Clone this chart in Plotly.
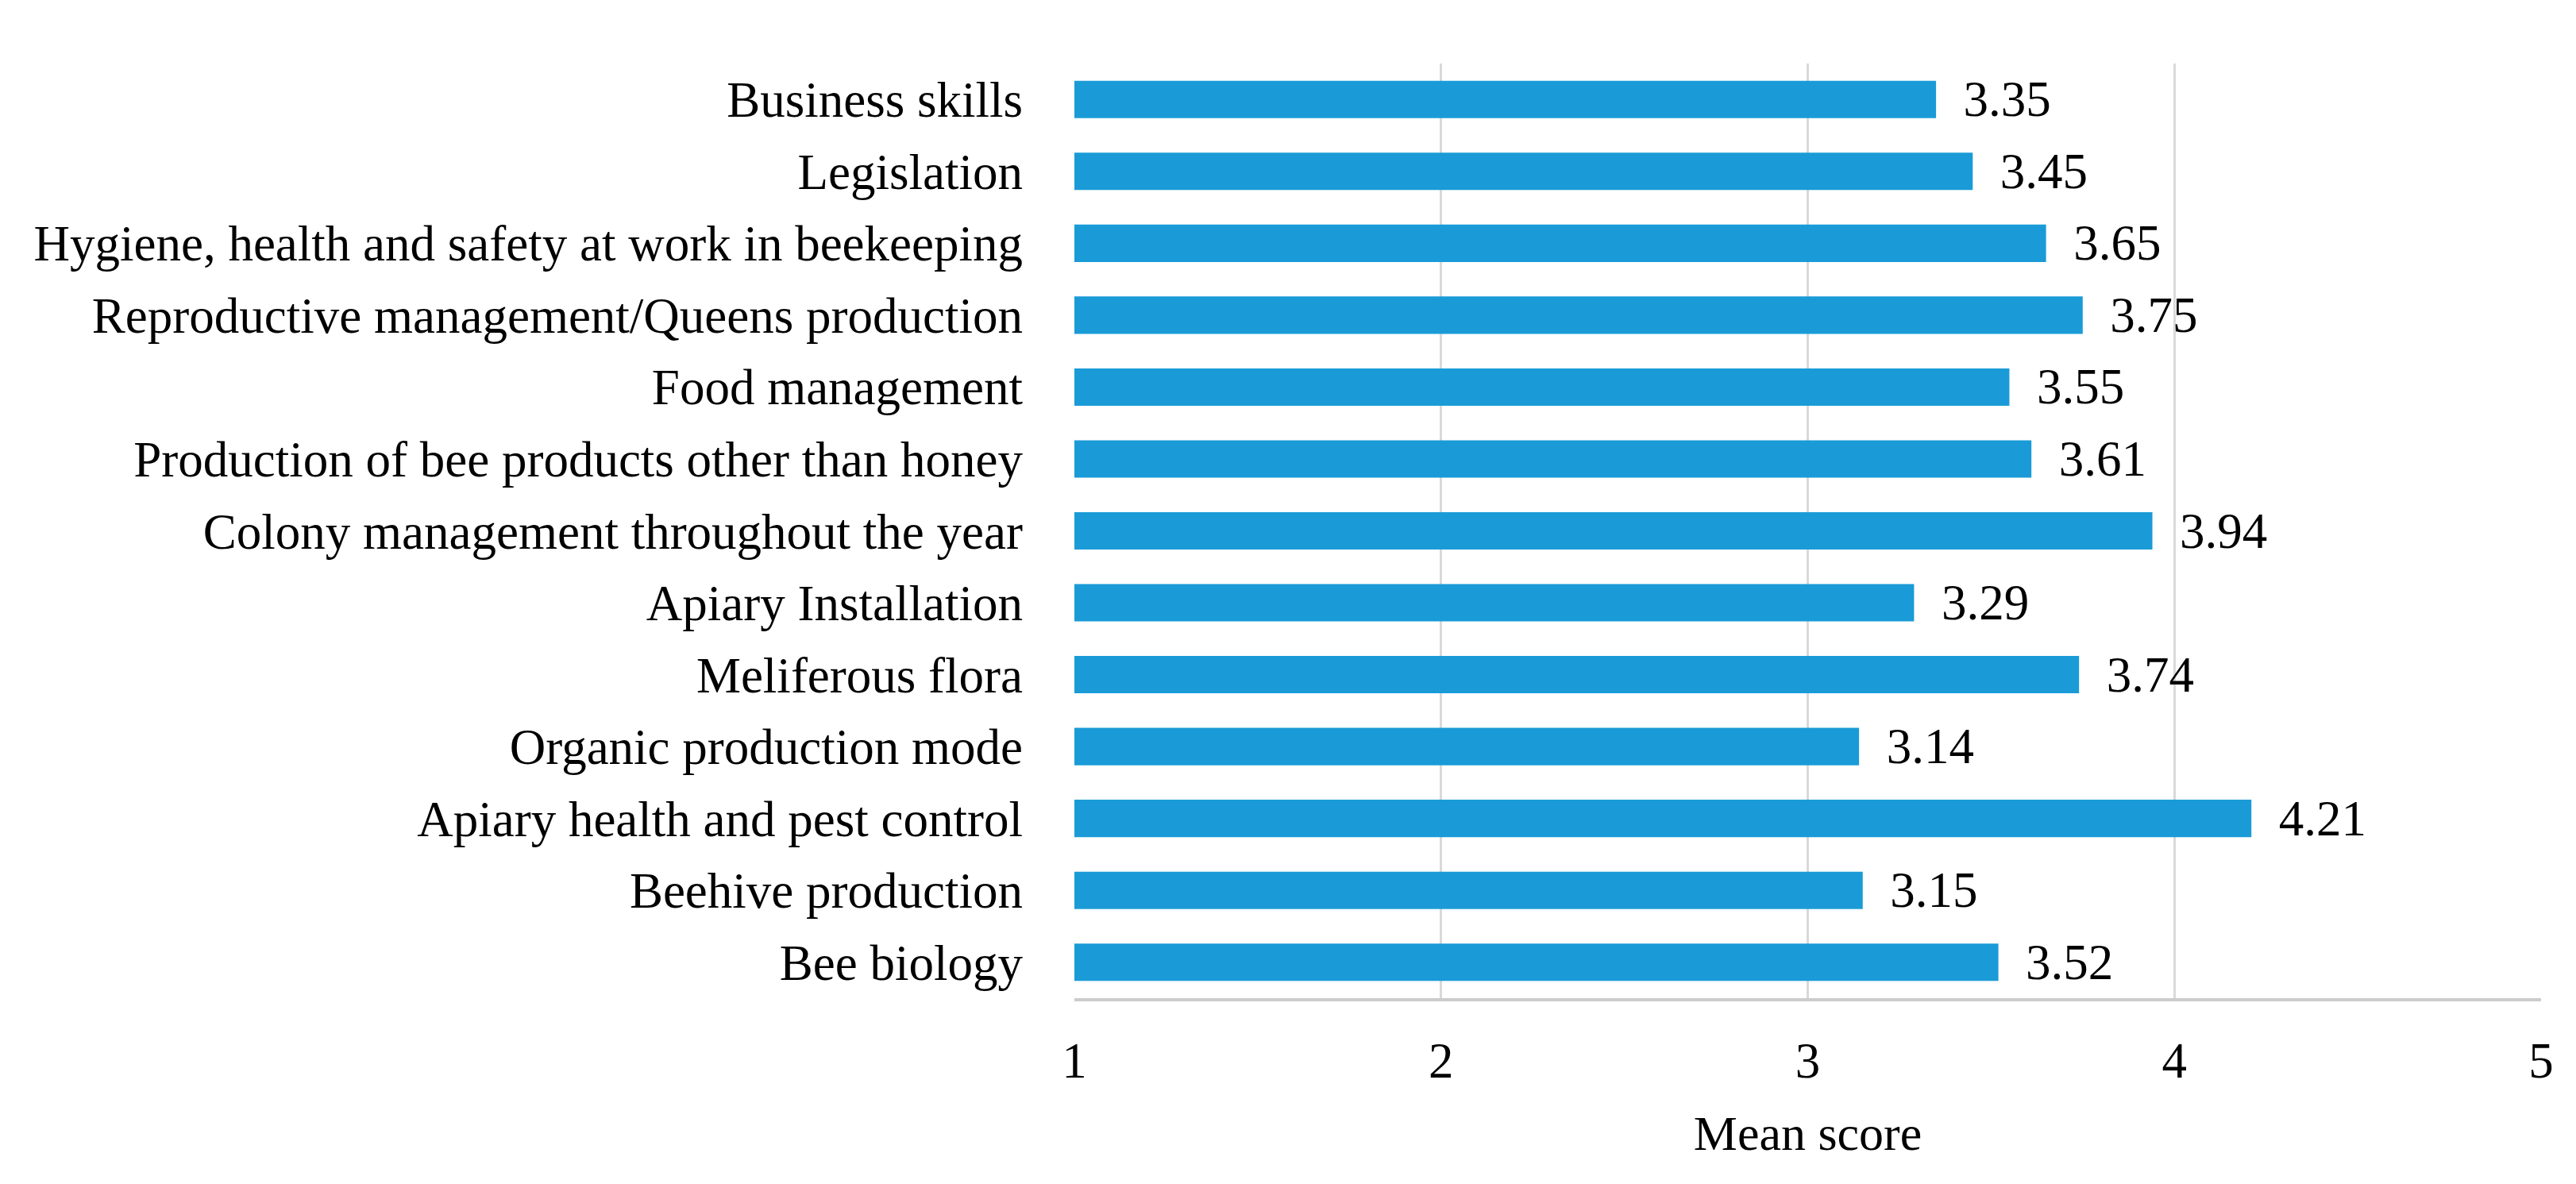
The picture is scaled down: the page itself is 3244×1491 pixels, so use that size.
import plotly.graph_objects as go

categories = [
    "Business skills",
    "Legislation",
    "Hygiene, health and safety at work in beekeeping",
    "Reproductive management/Queens production",
    "Food management",
    "Production of bee products other than honey",
    "Colony management throughout the year",
    "Apiary Installation",
    "Meliferous flora",
    "Organic production mode",
    "Apiary health and pest control",
    "Beehive production",
    "Bee biology",
]
mean_scores = [3.35, 3.45, 3.65, 3.75, 3.55, 3.61, 3.94, 3.29, 3.74, 3.14, 4.21, 3.15, 3.52]
x_ticks = [1, 2, 3, 4, 5]

FONT = "Liberation Serif"
FS = 63

fig = go.Figure(go.Bar(
    y=categories,
    x=mean_scores,
    orientation="h",
    marker=dict(color="#1a9bd7", line=dict(width=0)),
    text=["  " + f"{v:.2f}" for v in mean_scores],
    textposition="outside",
    constraintext="none",
    textfont=dict(family=FONT, size=FS, color="#000000"),
    cliponaxis=False,
    width=0.52,
))

fig.update_layout(
    width=3244, height=1491,
    margin=dict(l=1345, r=52, t=72, b=242),
    paper_bgcolor="white", plot_bgcolor="white",
    font=dict(family=FONT, size=FS, color="#000000"),
    showlegend=False,
)
fig.update_xaxes(
    range=[1, 5], tickvals=x_ticks, ticktext=[str(t) for t in x_ticks],
    showgrid=True, gridcolor="#d9d9d9", gridwidth=3,
    showline=True, linecolor="#cccccc", linewidth=4,
    zeroline=False, ticks="", ticklabelstandoff=20,
    tickfont=dict(family=FONT, size=FS),
    title=dict(text="Mean score", font=dict(family=FONT, size=62), standoff=36),
)
fig.update_yaxes(
    autorange="reversed", showgrid=False, showline=False, zeroline=False,
    ticks="", ticklabelstandoff=64,
    tickfont=dict(family=FONT, size=FS),
)

fig.write_html("out.html")
